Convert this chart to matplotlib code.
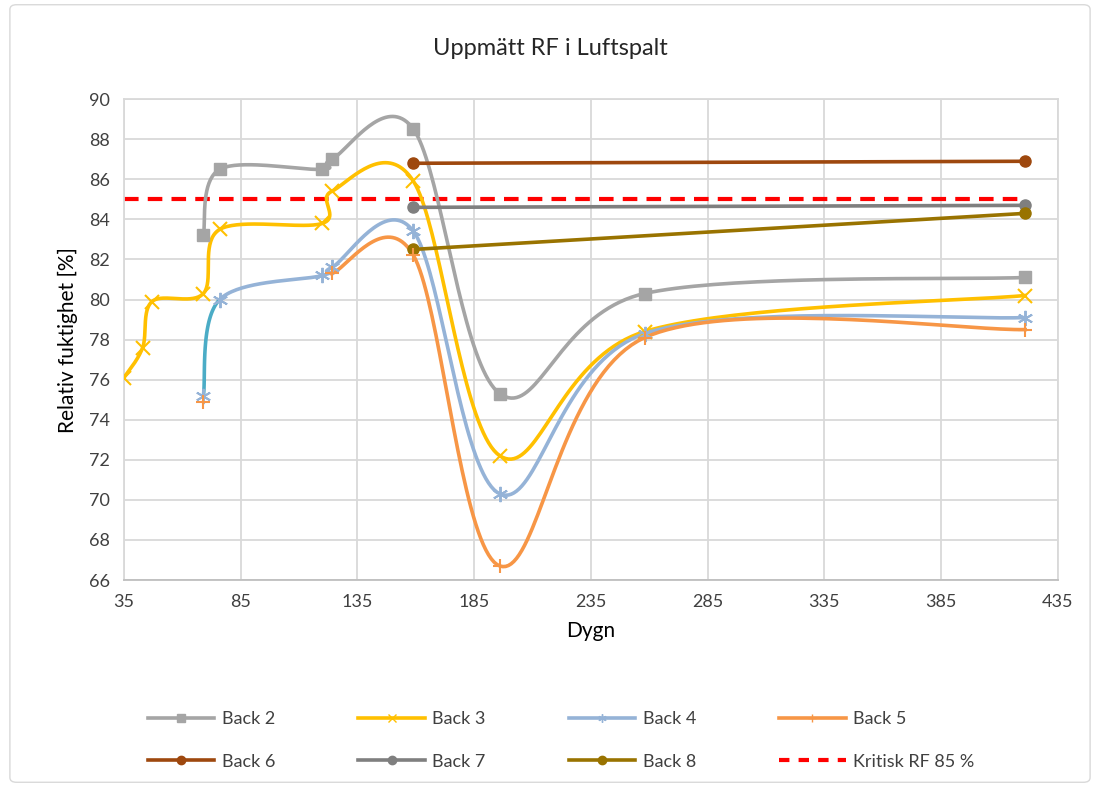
import numpy as np
import matplotlib
matplotlib.use("Agg")
import matplotlib.pyplot as plt
from matplotlib.patches import FancyBboxPatch
from matplotlib.lines import Line2D

# data (days, RF %)
x_b2 = [69, 76, 120, 124, 159, 196, 258, 421]
y_b2 = [83.2, 86.5, 86.5, 87.0, 88.5, 75.3, 80.3, 81.1]

x_b3 = [35, 43, 47, 69, 76, 120, 124, 159, 196, 258, 421]
y_b3 = [76.1, 77.6, 79.9, 80.3, 83.5, 83.8, 85.4, 85.9, 72.2, 78.4, 80.2]

x_b4 = [69, 76, 120, 124, 159, 196, 258, 421]
y_b4 = [75.2, 80.0, 81.2, 81.6, 83.4, 70.3, 78.3, 79.1]

x_b5 = [69, 124, 159, 196, 258, 421]
y_b5 = [74.9, 81.3, 82.2, 66.7, 78.1, 78.5]

x_b678 = [159, 421]
y_b6 = [86.8, 86.9]
y_b7 = [84.6, 84.7]
y_b8 = [82.5, 84.3]

x_krit = [35, 421]
y_krit = [85, 85]

C2, C3, C4, C5 = "#A5A5A5", "#FFC000", "#95B3D7", "#F79646"
C6, C7, C8 = "#9E480E", "#7F7F7F", "#997300"
TEAL = "#4BACC6"


def smooth(xs, ys, n=40):
    # Excel-like smoothing: bezier with catmull-rom control points
    xs = np.asarray(xs, float)
    ys = np.asarray(ys, float)
    pts = np.column_stack([xs, ys])
    segs = []
    for i in range(len(pts) - 1):
        p0 = pts[i - 1] if i > 0 else pts[i]
        p1 = pts[i]
        p2 = pts[i + 1]
        p3 = pts[i + 2] if i + 2 < len(pts) else pts[i + 1]
        c1 = p1 + (p2 - p0) / 6
        c2 = p2 - (p3 - p1) / 6
        t = np.linspace(0, 1, n)[:, None]
        b = ((1 - t) ** 3) * p1 + 3 * ((1 - t) ** 2) * t * c1 + 3 * (1 - t) * t ** 2 * c2 + t ** 3 * p2
        segs.append(b)
    return segs


def join(segs):
    return np.vstack(segs)


fig = plt.figure(figsize=(11, 7.87), dpi=100)
plt.rcParams["font.family"] = ["Lato", "DejaVu Sans"]
ax = fig.add_axes([0.1127, 0.263, 0.849, 0.611])

lw = 2.6

# Back 2
c = join(smooth(x_b2, y_b2))
ax.plot(c[:, 0], c[:, 1], color=C2, lw=lw, zorder=3)
ax.plot(x_b2, y_b2, ls="none", marker="s", ms=8, color=C2, zorder=4)

# Back 3
c = join(smooth(x_b3, y_b3))
ax.plot(c[:, 0], c[:, 1], color=C3, lw=lw, zorder=3)
ax.plot(x_b3, y_b3, ls="none", marker="x", ms=10, mew=1.5, color=C3, zorder=4)

# Back 4 (first segment drawn teal)
s4 = smooth(x_b4, y_b4)
c = join(s4[1:])
ax.plot(c[:, 0], c[:, 1], color=C4, lw=lw, zorder=3)
ax.plot(s4[0][:, 0], s4[0][:, 1], color=TEAL, lw=lw, zorder=3)
ax.plot(x_b4, y_b4, ls="none", marker=(6, 2, 0), ms=11, mew=1.4, color=C4, zorder=4)

# Back 5 (gap after first point)
c = join(smooth(x_b5[1:], y_b5[1:]))
ax.plot(c[:, 0], c[:, 1], color=C5, lw=lw, zorder=3)
ax.plot(x_b5, y_b5, ls="none", marker="+", ms=10, mew=1.5, color=C5, zorder=4)

# Back 6-8
ax.plot(x_b678, y_b6, color=C6, lw=lw, marker="o", ms=8, zorder=3)
ax.plot(x_b678, y_b7, color=C7, lw=lw, marker="o", ms=8, zorder=3)
ax.plot(x_b678, y_b8, color=C8, lw=lw, marker="o", ms=8, zorder=3)

# critical level
ax.plot(x_krit, y_krit, color="#FF0000", lw=3, ls=(0, (3.5, 2.2)), zorder=2)

ax.set_xlim(35, 435)
ax.set_ylim(66, 90)
ax.set_xticks(np.arange(35, 436, 50))
ax.set_yticks(np.arange(66, 91, 2))
ax.grid(True, color="#D9D9D9", lw=1.3)
ax.set_axisbelow(True)
for sp in ax.spines.values():
    sp.set_color("#D9D9D9")
    sp.set_linewidth(1.3)
ax.spines["bottom"].set_color("#BFBFBF")
ax.tick_params(length=0, labelsize=13, colors="#404040", pad=10)

ax.set_xlabel("Dygn", fontsize=15, color="#000000", labelpad=8)
ax.set_ylabel("Relativ fuktighet [%]", fontsize=15, color="#000000", labelpad=8)
fig.text(0.5, 0.938, "Uppmätt RF i Luftspalt", ha="center", va="center", fontsize=17, color="#262626")

# legend, row-major order like excel
h = {
    "Back 2": Line2D([], [], color=C2, lw=lw, marker="s", ms=6),
    "Back 3": Line2D([], [], color=C3, lw=lw, marker="x", ms=6, mew=1),
    "Back 4": Line2D([], [], color=C4, lw=lw, marker=(6, 2, 0), ms=6, mew=1),
    "Back 5": Line2D([], [], color=C5, lw=lw, marker="+", ms=6, mew=1),
    "Back 6": Line2D([], [], color=C6, lw=lw, marker="o", ms=6),
    "Back 7": Line2D([], [], color=C7, lw=lw, marker="o", ms=6),
    "Back 8": Line2D([], [], color=C8, lw=lw, marker="o", ms=6),
    "Kritisk RF 85 %": Line2D([], [], color="#FF0000", lw=3, ls=(0, (2.5, 2.2))),
}
order = ["Back 2", "Back 6", "Back 3", "Back 7", "Back 4", "Back 8", "Back 5", "Kritisk RF 85 %"]
fig.legend([h[k] for k in order], order, ncol=4, loc="center", bbox_to_anchor=(0.51, 0.059),
           frameon=False, fontsize=13, labelcolor="#404040", handlelength=3.7,
           handletextpad=0.4, columnspacing=4.6, labelspacing=1.45)

border = FancyBboxPatch((0.009, 0.006), 0.982, 0.988, boxstyle="round,pad=0,rounding_size=0.006",
                        transform=fig.transFigure, fill=False, edgecolor="#D9D9D9", lw=1)
fig.patches.append(border)

fig.savefig("out.png", dpi=100)
